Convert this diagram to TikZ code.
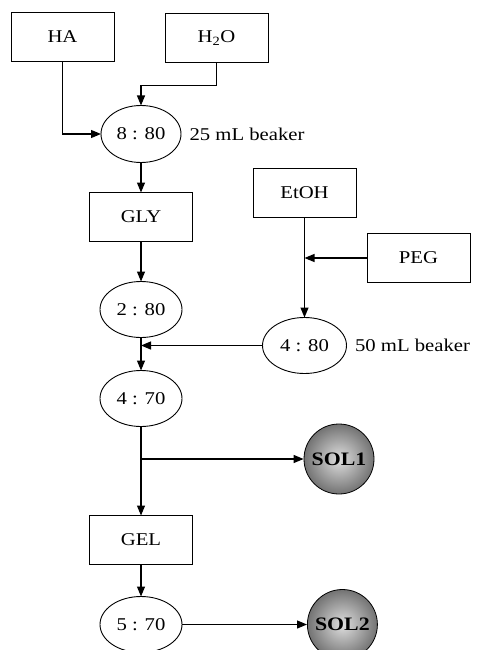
\documentclass[tikz,border=0pt]{standalone}
\usepackage{fontspec}
\setmainfont{Liberation Serif}[FakeStretch=1.15]
\usetikzlibrary{shapes.geometric,arrows.meta,positioning}

\begin{document}
\begin{tikzpicture}[
            x=1pt, y=-1pt,
            font=\fontsize{18}{21}\selectfont,
            box/.style={
                    rectangle,
                    draw,
                    line width=0.9pt,
                    minimum width=103pt,
                    minimum height=49pt,
                    inner sep=0pt,
                    outer sep=0pt
                },
            mix/.style={
                    ellipse,
                    draw,
                    line width=0.9pt,
                    minimum width=82pt,
                    minimum height=56pt,
                    inner sep=0pt,
                    outer sep=0pt
                },
            sol/.style={
                    circle,
                    draw,
                    line width=0.8pt,
                    minimum size=70pt,
                    inner sep=0pt,
                    inner color=gray!25,
                    outer color=gray!90!black,
                    font=\fontsize{19}{22}\selectfont\bfseries
                },
            arrow/.style={-{Triangle[length=10pt,width=8pt]}, line width=1.2pt}
        ]
        \useasboundingbox (0,0) rectangle (485,650);

        % left column
        \node[box] (ha) at (62.5,37) {HA};
        \node[box] (water) at (216.5,38) {H\textsubscript{2}O};
        \node[mix, minimum width=80pt, minimum height=57pt] (mixA) at (141,134) {8 : 80};
        \node[right=5pt of mixA] (beakerA) {25 mL beaker};
        \node[box, below=30pt of mixA] (gly) {GLY};
        \node[mix, below=40pt of gly] (mixB) {2 : 80};
        \node[mix, below=33pt of mixB] (mixD) {4 : 70};
        \node[box, below=89pt of mixD] (gel) {GEL};
        \node[mix, below=32pt of gel] (mixE) {5 : 70};

        % right column
        \node[box] (etoh) at (304.5,193) {EtOH};
        \node[box] (peg) at (418.5,258) {PEG};
        \node[mix, minimum width=84pt, below=100pt of etoh] (mixC) {4 : 80};
        \node[right=5pt of mixC] (beakerC) {50 mL beaker};

        % products
        \node[sol] (solA) at (339,459) {SOL1};
        \node[sol, right=125pt of mixE] (solB) {SOL2};

        \draw[arrow] (ha.south) |- (mixA.west);
        \draw[arrow] (water.south) -- ++(0,23) -| (mixA.north);
        \draw[arrow] (mixA) -- (gly);
        \draw[arrow] (gly) -- (mixB);
        \draw[arrow] (peg.west) -- (etoh |- peg);
        \draw[arrow] (etoh) -- (mixC);
        \draw[arrow] (mixB) -- (mixD);
        \draw[arrow] (mixC.west) -- (mixB.south |- mixC);
        \draw[arrow] (mixD) -- (gel);
        \draw[arrow] (mixD.south |- solA) -- (solA.west);
        \draw[arrow] (gel) -- (mixE);
        \draw[arrow] (mixE) -- (solB);
    \end{tikzpicture}
\end{document}
